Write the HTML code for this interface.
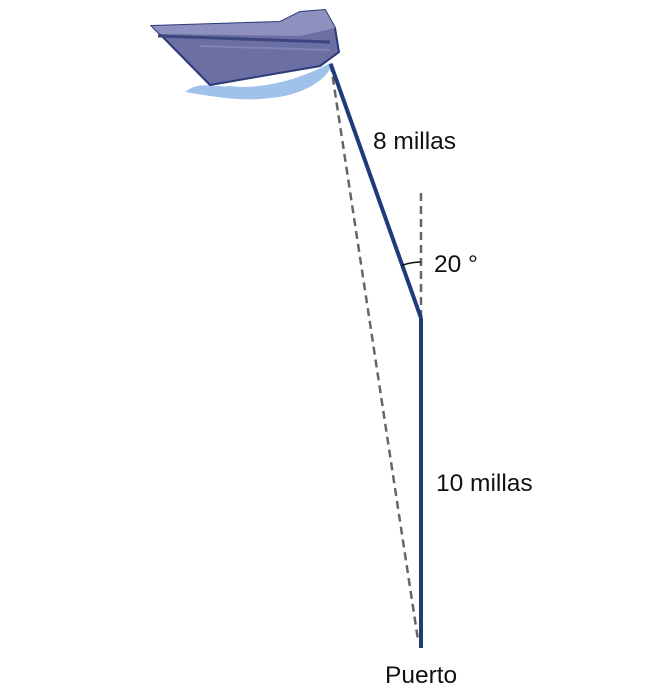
<!DOCTYPE html>
<html><head><meta charset="utf-8"><style>
body{margin:0;background:#fff;width:650px;height:691px;overflow:hidden}
svg text{font-family:"Liberation Sans",sans-serif;font-size:24.5px;fill:#111}
</style></head><body>
<svg width="650" height="691" viewBox="0 0 650 691" xmlns="http://www.w3.org/2000/svg">
<g>
 <path d="M185,92 C200,80 215,88 230,86 C260,90 300,80 332,62 C330,80 300,96 270,98 C240,102 210,96 185,92Z" fill="#8fb6e6" opacity="0.85"/>
 <path d="M152,26 L280,22 L300,12 L325,10 L335,28 L339,52 L320,66 L210,85 Z" fill="#6c6fa3" stroke="#2b3a78" stroke-width="2"/>
 <path d="M152,26 L280,22 L300,12 L325,10 L335,28 L300,36 L160,34 Z" fill="#8e90bf"/>
 <path d="M158,36 L330,42" stroke="#3d4680" stroke-width="3" fill="none"/>
 <path d="M200,46 L330,50" stroke="#7f82b4" stroke-width="2" fill="none"/>
</g>
<g id="lines"></g>
<text x="373" y="149">8 millas</text>
<text x="434" y="272">20 °</text>
<text x="436" y="491">10 millas</text>
<text x="385" y="683">Puerto</text>
</svg>
<script>
const legLengths=[10,8];
const headingDeg=[20];
const port={x:421,y:648}, scale=33;
const g=document.getElementById('lines'), NS='http://www.w3.org/2000/svg';
function line(x1,y1,x2,y2,st,name){const l=document.createElementNS(NS,'line');
l.setAttribute('x1',x1);l.setAttribute('y1',y1);l.setAttribute('x2',x2);l.setAttribute('y2',y2);
for(const k in st)l.setAttribute(k,st[k]);


g.appendChild(l);return l;}
const turn={x:port.x,y:port.y-legLengths[0]*scale};
const a=headingDeg[0]*Math.PI/180;
const boat={x:turn.x-legLengths[1]*scale*Math.sin(a),y:turn.y-legLengths[1]*scale*Math.cos(a)};
const dash={stroke:'#666','stroke-width':2.5,'stroke-dasharray':'8,5'};
line(turn.x,turn.y,turn.x,turn.y-128,dash,'north-reference-line');
line(boat.x,boat.y-6,port.x-3,port.y-8,dash,'direct-distance-line');
const solid={stroke:'#1f3b78','stroke-width':4};
line(port.x,port.y,turn.x,turn.y,solid,'leg-10-millas');
line(turn.x,turn.y,boat.x,boat.y-6,solid,'leg-8-millas');
const r=56,p=document.createElementNS(NS,'path');
p.setAttribute('d',`M${turn.x},${turn.y-r} A${r},${r} 0 0 0 ${turn.x-r*Math.sin(a)},${turn.y-r*Math.cos(a)}`);
p.setAttribute('fill','none');p.setAttribute('stroke','#111');p.setAttribute('stroke-width','1.5');


g.appendChild(p);
</script>
</body></html>
